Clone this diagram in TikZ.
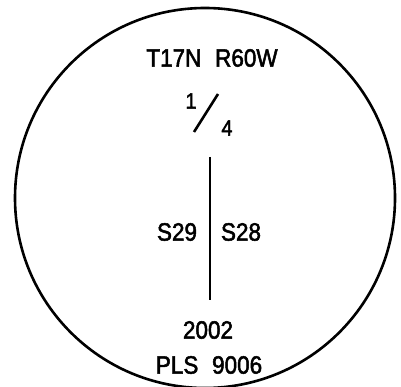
\documentclass[tikz,border=0pt]{standalone}
\usepackage{fontspec}
\setmainfont{Liberation Sans}
\newfontfamily\plotfont[FakeStretch=0.9,FakeBold=2]{Liberation Sans}
\begin{document}
\begin{tikzpicture}[x=1pt,y=-1pt,
  lbl/.style={inner sep=0pt, font=\plotfont\fontsize{25}{29}\selectfont},
  frac/.style={inner sep=0pt, font=\plotfont\fontsize{22}{26}\selectfont},
  stroke/.style={line width=2.6pt}]
\useasboundingbox (0,0) rectangle (401,387);
\draw[stroke] (205,198) circle [radius=190pt];
\node[lbl] (twp) at (212,58) {T17N\hspace{0.55em}R60W};
\node[frac] (num) at (191,101) {1};
\node[frac] (den) at (227,128) {4};
\coordinate (sa) at (194,132);
\coordinate (sb) at (218,94);
\draw[stroke] (sa) -- (sb);
\coordinate (la) at (210,157);
\coordinate (lb) at (210,300);
\draw[stroke] (la) -- (lb);
\node[lbl] (s29) at (177,232) {S29};
\node[lbl] (s28) at (241,232) {S28};
\node[lbl] (yr) at (208,330) {2002};
\node[lbl] (pls) at (209,365) {PLS\hspace{0.55em}9006};
\end{tikzpicture}
\end{document}
